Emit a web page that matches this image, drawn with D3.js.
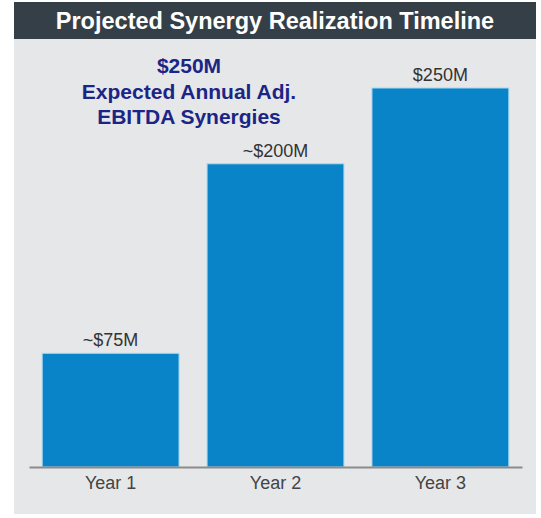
<!DOCTYPE html>
<html>
<head>
<meta charset="utf-8">
<script src="https://cdn.jsdelivr.net/npm/d3@7"></script>
<style>
	body { margin: 0; background: #ffffff; }
	svg { display: block; font-family: Arial, "Liberation Sans", Helvetica, sans-serif; }
</style>
</head>
<body>
<svg id="chart" width="541" height="518"></svg>
<script>
const title = 'Projected Synergy Realization Timeline';
const calloutLines = ['$250M', 'Expected Annual Adj.', 'EBITDA Synergies'];
const years = ['Year 1', 'Year 2', 'Year 3'];
const synergies = [75, 200, 250];
const valueLabels = ['~$75M', '~$200M', '$250M'];

const svg = d3.select('#chart');

drawFrame();
drawBars();
drawCallout();

//-- functions --//

function drawFrame() {
	// gray panel and dark title bar
	svg.append('rect')
		.attr('x', 14).attr('y', 38)
		.attr('width', 522).attr('height', 476)
		.style('fill', '#e6e7e9');

	svg.append('rect')
		.attr('x', 14).attr('y', 2)
		.attr('width', 522).attr('height', 37)
		.style('fill', '#353f48');

	svg.append('text')
		.attr('x', 275).attr('y', 29)
		.attr('text-anchor', 'middle')
		.style('font-size', '23.5px')
		.style('font-weight', 'bold')
		.style('fill', '#ffffff')
		.text(title);
}

function drawBars() {
	let xScale = d3.scaleBand()
		.domain(years)
		.range([ 29, 522 ])
		.paddingInner(0.17)
		.paddingOuter(0.08);
	let yScale = d3.scaleLinear()
		.domain([ 0, 250 ])
		.range([ 467, 88 ]);

	svg.selectAll('rect.bar')
		.data(synergies)
		.join('rect')
		.attr('class', 'bar')
		.attr('x', (d, i) => xScale(years[i]))
		.attr('y', d => yScale(d))
		.attr('width', xScale.bandwidth())
		.attr('height', d => yScale(0) - yScale(d))
		.style('fill', '#0a84c8')
		.style('stroke', '#a6d8f2')
		.style('stroke-width', 1);

	svg.selectAll('text.value')
		.data(synergies)
		.join('text')
		.attr('class', 'value')
		.attr('x', (d, i) => xScale(years[i]) + xScale.bandwidth() / 2)
		.attr('y', d => yScale(d) - 7)
		.attr('text-anchor', 'middle')
		.style('font-size', '18px')
		.style('fill', '#333333')
		.text((d, i) => valueLabels[i]);

	// axis with the domain line only
	let axis = svg.append('g')
		.attr('transform', 'translate(0,' + yScale(0) + ')')
		.call(d3.axisBottom(xScale).tickSize(0).tickPadding(9).tickSizeOuter(0));

	axis.select('.domain')
		.style('stroke', '#8c8c8c')
		.style('stroke-width', 2);
	axis.selectAll('.tick text')
		.style('font-family', 'Arial, "Liberation Sans", sans-serif')
		.style('font-size', '18px')
		.style('fill', '#444444');
}

function drawCallout() {
	svg.append('text')
		.attr('text-anchor', 'middle')
		.style('font-size', '21px')
		.style('font-weight', 'bold')
		.style('fill', '#1b2585')
		.selectAll('tspan')
		.data(calloutLines)
		.join('tspan')
		.attr('x', 189)
		.attr('y', (d, i) => 73 + i * 25.5)
		.text(d => d);
}
</script>
</body>
</html>
